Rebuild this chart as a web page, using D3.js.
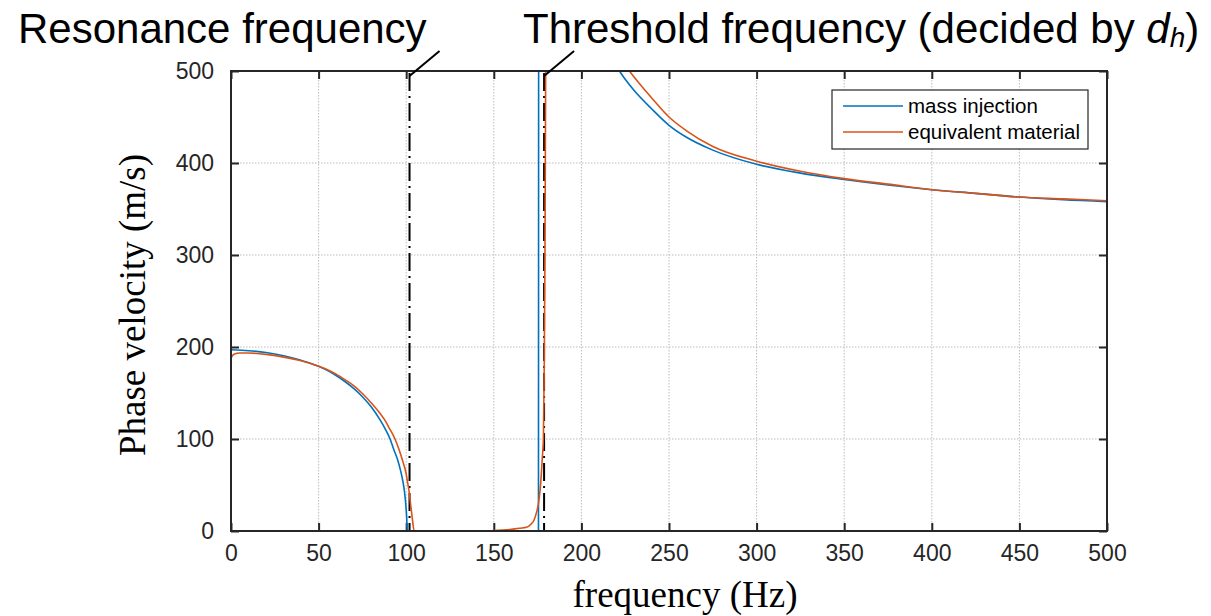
<!DOCTYPE html>
<html>
<head>
<meta charset="utf-8">
<script src="https://cdn.jsdelivr.net/npm/d3@7"></script>
<style>
  body {margin: 0; background: #fff;}
  .tick text {font-family: "Liberation Sans", Arial, sans-serif; font-size: 23px; fill: #262626;}
</style>
</head>
<body>
<div id="plot"></div>
<script>
// data (frequency in Hz, phase velocity in m/s), null = gap
var massFreq = [0, 10, 20, 30, 40, 50, 56, 60, 65, 70, 75, 80, 85, 88, 90.8, 93, 95, 97, 98, 99, 99.8, 100.3, 100.6,
    120, 150, 175.5, 175.6, 176, 214.5, 221.7, 225, 230, 240, 250, 260, 275, 300, 325, 350, 375, 400, 425, 450, 475, 500];
var massVel = [197, 196, 194, 190.5, 185.5, 179, 173.5, 169, 162.5, 155, 146, 135, 121, 111, 100, 88, 78, 64, 55, 43, 28, 14, 0,
    0, 0, 0, 600, null, 520, 500, 491, 479, 459, 441, 428, 414, 398.6, 389, 382, 376, 371, 367, 363, 360, 358];

var equivFreq = [0, 1, 2, 5, 10, 20, 30, 40, 50, 56, 60, 65, 70, 75, 80, 85, 88, 90, 93.6, 96, 98, 100, 100.6, 101.5, 102.7, 103.6, 104.5,
    120, 146, 150, 155, 160, 165, 168.7, 171, 173, 174.5, 175.5, 176.4, 177, 177.7, 178.3, 178.8, 179.2, 179.6, 179.8, 180,
    220, 227.4, 235, 240, 250, 260, 275, 300, 325, 350, 375, 400, 425, 450, 475, 500];
var equivVel = [188, 191, 192.5, 193.5, 193.5, 192, 189, 185, 179, 174.5, 170.5, 164.5, 158, 149.5, 139.5, 128, 120, 113, 100, 88, 76, 62, 55, 45, 26, 12, 0,
    0, 0, 0.5, 1, 1.8, 3, 4, 7, 12, 21, 30, 44, 58, 80, 100, 180, 300, 500, 600, null,
    520, 500, 482, 471, 450, 435, 418, 402, 391, 383, 377, 371, 367, 363, 361, 359];

var xTicks = [0, 50, 100, 150, 200, 250, 300, 350, 400, 450, 500];
var yTicks = [0, 100, 200, 300, 400, 500];
var markFreq = [101.9, 178.7]; // dash-dot markers
var seriesNames = ['mass injection', 'equivalent material'];
var seriesColors = ['#0072BD', '#D95319'];

var W = 1211, H = 616;
var margin = {t: 71, r: 104, b: 85, l: 231};
var width = W - margin.l - margin.r,
    height = H - margin.t - margin.b;

var svg = d3.select('#plot')
    .append('svg')
    .attr('width', W)
    .attr('height', H);

var scaleX = d3.scaleLinear().domain([0, 500]).range([0, width]);
var scaleY = d3.scaleLinear().domain([0, 500]).range([height, 0]);

svg.append('defs').append('clipPath').attr('id', 'clip')
    .append('rect').attr('width', width).attr('height', height);

var plot = svg.append('g').attr('transform', 'translate(' + margin.l + ',' + margin.t + ')');

// grid
plot.append('g').selectAll('line').data(xTicks.slice(1, -1)).enter().append('line')
    .attr('x1', scaleX).attr('x2', scaleX).attr('y1', 0).attr('y2', height)
    .attr('stroke', '#bdbdbd').attr('stroke-dasharray', '1.5,1.5');
plot.append('g').selectAll('line').data(yTicks.slice(1, -1)).enter().append('line')
    .attr('y1', scaleY).attr('y2', scaleY).attr('x1', 0).attr('x2', width)
    .attr('stroke', '#bdbdbd').attr('stroke-dasharray', '1.5,1.5');

// axes
var axisX = d3.axisBottom(scaleX).tickValues(xTicks).tickSizeInner(-8).tickSizeOuter(0).tickPadding(14);
var axisY = d3.axisLeft(scaleY).tickValues(yTicks).tickSizeInner(-8).tickSizeOuter(0).tickPadding(17);
var axisTop = d3.axisTop(scaleX).tickValues(xTicks).tickSizeInner(-8).tickSizeOuter(0).tickFormat('');
var axisRight = d3.axisRight(scaleY).tickValues(yTicks).tickSizeInner(-8).tickSizeOuter(0).tickFormat('');

plot.append('g').attr('class', 'axis').attr('transform', 'translate(0,' + height + ')').call(axisX);
plot.append('g').attr('class', 'axis').call(axisY);
plot.append('g').attr('class', 'axis').call(axisTop);
plot.append('g').attr('class', 'axis').attr('transform', 'translate(' + width + ',0)').call(axisRight);
plot.selectAll('.axis path.domain').remove();
plot.selectAll('.axis line').attr('stroke', '#262626').attr('stroke-width', 2);

// dash-dot markers
plot.append('g').selectAll('line').data(markFreq).enter().append('line')
    .attr('x1', scaleX).attr('x2', scaleX).attr('y1', 2).attr('y2', height)
    .attr('stroke', '#000').attr('stroke-width', 2).attr('stroke-dasharray', '18,5,2,5');

// curves
var line = d3.line()
    .defined(function(d) { return d[1] !== null; })
    .x(function(d) { return scaleX(d[0]); })
    .y(function(d) { return scaleY(d[1]); })
    .curve(d3.curveMonotoneX);

var massData = d3.zip(massFreq, massVel);
var equivData = d3.zip(equivFreq, equivVel);

plot.append('g').attr('clip-path', 'url(#clip)')
    .selectAll('path').data([massData, equivData]).enter().append('path')
    .attr('d', line)
    .attr('fill', 'none')
    .attr('stroke', function(d, i) { return seriesColors[i]; })
    .attr('stroke-width', 1.6);

// box
plot.append('rect').attr('width', width).attr('height', height)
    .attr('fill', 'none').attr('stroke', '#262626').attr('stroke-width', 2);

// legend
var legend = plot.append('g').attr('transform', 'translate(' + (832 - margin.l) + ',' + (90 - margin.t) + ')');
legend.append('rect').attr('width', 256).attr('height', 59)
    .attr('fill', '#fff').attr('stroke', '#262626').attr('stroke-width', 1.2);
seriesNames.forEach(function(name, i) {
    legend.append('line').attr('x1', 11).attr('x2', 71).attr('y1', 16 + i * 26).attr('y2', 16 + i * 26)
        .attr('stroke', seriesColors[i]).attr('stroke-width', 1.6);
    legend.append('text').attr('x', 76).attr('y', 23 + i * 26).text(name)
        .style('font-family', '"Liberation Sans", Arial, sans-serif').style('font-size', '20.5px').attr('fill', '#000');
});

// axis titles
svg.append('text').attr('x', 685).attr('y', 607).attr('text-anchor', 'middle')
    .style('font-family', '"Liberation Serif", "Times New Roman", serif').style('font-size', '37px')
    .text('frequency (Hz)');
svg.append('text').attr('transform', 'translate(145,' + (margin.t + height / 2 + 4) + ') rotate(-90)')
    .attr('text-anchor', 'middle')
    .style('font-family', '"Liberation Serif", "Times New Roman", serif').style('font-size', '37px')
    .text('Phase velocity (m/s)');

// annotations
var sans = '"Liberation Sans", Arial, sans-serif';
svg.append('text').attr('x', 18).attr('y', 43).style('font-family', sans).style('font-size', '42px')
    .text('Resonance frequency');
var thr = svg.append('text').attr('x', 523).attr('y', 43).style('font-family', sans).style('font-size', '42px');
thr.append('tspan').text('Threshold frequency (decided by ');
thr.append('tspan').style('font-style', 'italic').text('d');
thr.append('tspan').style('font-style', 'italic').style('font-size', '28px').attr('dy', 4).text('h');
thr.append('tspan').attr('dy', -4).text(')');

// leader lines from the markers to the labels
svg.append('g').selectAll('line').data(markFreq).enter().append('line')
    .attr('x1', function(d) { return margin.l + scaleX(d); })
    .attr('y1', margin.t + 5)
    .attr('x2', function(d) { return margin.l + scaleX(d) + 30; })
    .attr('y2', 51)
    .attr('stroke', '#000').attr('stroke-width', 2);
</script>
</body>
</html>
